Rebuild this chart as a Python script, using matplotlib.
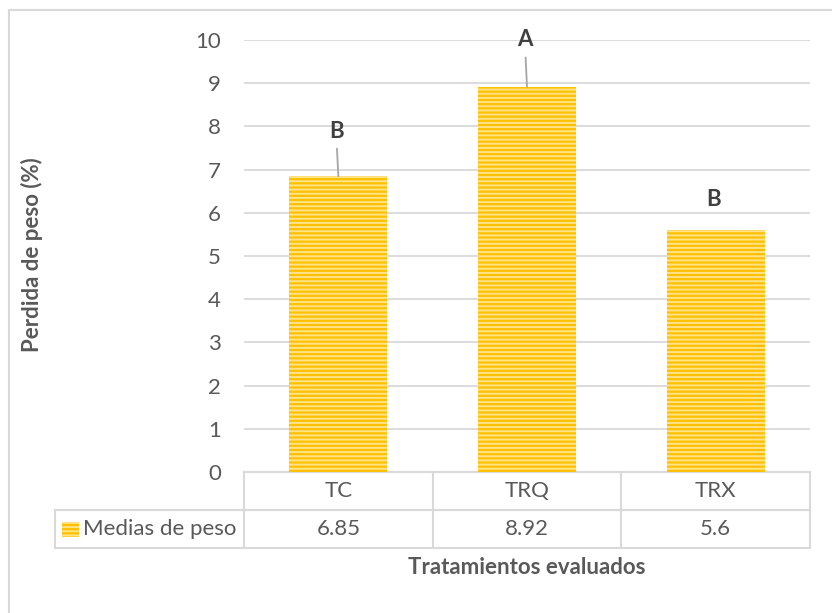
import matplotlib.pyplot as plt
from matplotlib.patches import Rectangle
from matplotlib.lines import Line2D

categories = ['TC', 'TRQ', 'TRX']
means = [6.85, 8.92, 5.6]
groups = ['B', 'A', 'B']
series_name = 'Medias de peso'

plt.rcParams['font.family'] = ['Lato', 'DejaVu Sans']
plt.rcParams['hatch.linewidth'] = 1.4

TXT = '#595959'
GRID = '#D9D9D9'
GOLD = '#FFC000'
LIGHT = '#FFE38A'
FS = 16

W, H = 832, 613
fig = plt.figure(figsize=(W / 100, H / 100), dpi=100)

# outer chart frame (only top and left edges fall inside the image)
fig.add_artist(Line2D([9 / W, 1], [1 - 10 / H, 1 - 10 / H], color=GRID, lw=1.5))
fig.add_artist(Line2D([9 / W, 9 / W], [1 - 10 / H, 0], color=GRID, lw=1.5))

left, right, top, bottom = 244, 810, 40, 472
ax = fig.add_axes([left / W, 1 - bottom / H, (right - left) / W, (bottom - top) / H])

x = range(len(categories))
ax.bar(x, means, width=0.52, color=GOLD, edgecolor=LIGHT, linewidth=0,
       hatch='----', zorder=3)

ax.set_xlim(-0.5, len(categories) - 0.5)
ax.set_ylim(0, 10)
ax.set_yticks(range(0, 11))
ax.grid(axis='y', color=GRID, lw=1.3, zorder=0)
ax.set_xticks([])
for s in ax.spines.values():
    s.set_visible(False)
ax.tick_params(axis='y', length=0, pad=16.5, labelsize=FS, labelcolor=TXT)

# significance letters, leader lines where the label sits away from the bar
offsets = [1.04, 1.08, 0.70]
for i, (v, g, off) in enumerate(zip(means, groups, offsets)):
    arrow = None
    if off > 0.9:
        arrow = dict(arrowstyle='-', color='#A6A6A6', lw=1.3,
                     shrinkA=3, shrinkB=0)
    ax.annotate(g, xy=(i, v), xytext=(i - 0.012, v + off),
                ha='center', va='center', fontsize=FS, fontweight='bold',
                color='#404040', arrowprops=arrow, zorder=4)

# data table under the plot
row_h = 38 / (bottom - top)
ax_w = right - left
tr = ax.transAxes
legend_left = (55 - left) / ax_w
kw = dict(color=GRID, lw=1.5, transform=tr, clip_on=False)
ax.add_line(Line2D([0, 1], [0, 0], **kw))
ax.add_line(Line2D([0, 1], [-row_h, -row_h], **kw))
ax.add_line(Line2D([legend_left, 1], [-row_h, -row_h], **kw))
ax.add_line(Line2D([legend_left, 1], [-2 * row_h, -2 * row_h], **kw))
ax.add_line(Line2D([legend_left, legend_left], [-row_h, -2 * row_h], **kw))
for k in range(len(categories) + 1):
    xf = k / len(categories)
    ax.add_line(Line2D([xf, xf], [0, -2 * row_h], **kw))

for k, (c, v) in enumerate(zip(categories, means)):
    xf = (k + 0.5) / len(categories)
    ax.text(xf, -0.5 * row_h, c, transform=tr, ha='center', va='center',
            fontsize=FS, color=TXT)
    ax.text(xf, -1.5 * row_h, f'{v:g}', transform=tr, ha='center', va='center',
            fontsize=FS, color=TXT)

sw = 17 / ax_w
sh = 15 / (bottom - top)
sx = (62 - left) / ax_w
ax.add_patch(Rectangle((sx, -1.5 * row_h - sh / 2), sw, sh, transform=tr,
                       facecolor=GOLD, edgecolor=LIGHT, linewidth=0,
                       hatch='----', clip_on=False))
ax.text((83 - left) / ax_w, -1.5 * row_h, series_name, transform=tr,
        ha='left', va='center', fontsize=FS, color=TXT)

fig.text((left + right) / 2 / W, 1 - 567 / H, 'Tratamientos evaluados',
         ha='center', va='center', fontsize=FS, fontweight='bold', color=TXT)
fig.text(32 / W, 1 - 255 / H, 'Perdida de peso (%)', rotation=90,
         ha='center', va='center', fontsize=FS, fontweight='bold', color=TXT)

fig.savefig('out.png', dpi=100)
